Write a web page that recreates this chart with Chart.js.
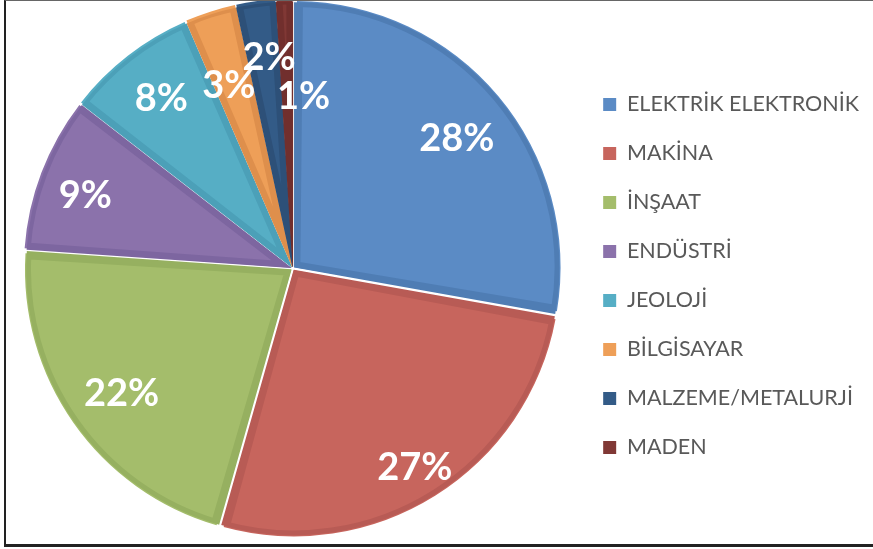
<!DOCTYPE html>
<html>
<head>
<meta charset="utf-8">
<script src="https://cdn.jsdelivr.net/npm/chart.js@4/dist/chart.umd.min.js"></script>
<style>
  html, body { margin: 0; padding: 0; background: #fff; }
  #wrap { position: relative; width: 873px; height: 549px; }
  #frame {
    position: absolute; left: 4px; top: 0; width: 880px; height: 543px;
    border-left: 2px solid #222; border-top: 1px solid #666; border-bottom: 3px solid #222;
    pointer-events: none;
  }
</style>
</head>
<body>
<div id="wrap">
  <canvas id="pieChart" width="873" height="549"></canvas>
  <div id="frame"></div>
</div>
<script>
const categories = ['ELEKTRİK ELEKTRONİK', 'MAKİNA', 'İNŞAAT', 'ENDÜSTRİ', 'JEOLOJİ', 'BİLGİSAYAR', 'MALZEME/METALURJİ', 'MADEN'];
// shares in percent
const shares = [27.8, 26.6, 21.7, 9.4, 8.0, 3.1, 2.4, 1.0];

const fillColors = ['#5B8BC5', '#C7655D', '#A4BD6B', '#8B72AB', '#56AEC5', '#EE9F58', '#335B87', '#803835'];
const edgeColors = ['#4F7DB4', '#B85B55', '#96B060', '#7D66A0', '#4CA0B8', '#DE8F4C', '#2D5078', '#712F2D'];

// where each percentage sits, as a fraction of the radius (Excel "best fit" look)
const labelRadius = [0.79, 0.88, 0.80, 0.83, 0.81, 0.73, 0.80, 0.65];
const labelTurn = [1.5, 0.5, -1, -1.5, 0, -1.5, 1.5, 5.4]; // degrees

const pctLabels = {
  id: 'pctLabels',
  afterDatasetsDraw(chart) {
    const ctx = chart.ctx;
    const meta = chart.getDatasetMeta(0);
    const total = shares.reduce((a, b) => a + b, 0);
    ctx.save();
    ctx.fillStyle = '#fff';
    ctx.font = 'bold 38px Lato';
    ctx.textAlign = 'center';
    ctx.textBaseline = 'middle';
    meta.data.forEach((arc, i) => {
      const p = arc.getProps(['x', 'y', 'startAngle', 'endAngle', 'outerRadius'], true);
      const mid = (p.startAngle + p.endAngle) / 2 + labelTurn[i] * Math.PI / 180;
      const r = p.outerRadius * labelRadius[i];
      const txt = Math.round(shares[i] / total * 100) + '%';
      ctx.fillText(txt, p.x + Math.cos(mid) * r, p.y + Math.sin(mid) * r);
    });
    ctx.restore();
  }
};

const ctx = document.getElementById('pieChart').getContext('2d');
new Chart(ctx, {
  type: 'pie',
  data: {
    labels: categories,
    datasets: [{
      data: shares,
      backgroundColor: fillColors,
      borderColor: edgeColors,
      borderWidth: 6,
      borderAlign: 'inner',
      offset: 8,
      spacing: 3,
      radius: 265,
      clip: false
    }]
  },
  options: {
    responsive: false,
    animation: false,
    layout: { padding: { left: 10, right: 4, top: 0, bottom: 12 } },
    plugins: {
      tooltip: { enabled: false },
      legend: {
        position: 'right',
        title: { display: true, text: ' ', font: { size: 12.5 }, padding: 0 },
        labels: {
          boxWidth: 13,
          boxHeight: 13,
          padding: 27.5,
          color: '#595959',
          font: { family: 'Lato', size: 21.5 },
          generateLabels(chart) {
            return categories.map((c, i) => ({
              text: c,
              fillStyle: fillColors[i],
              strokeStyle: fillColors[i],
              lineWidth: 0,
              fontColor: '#595959',
              index: i
            }));
          }
        }
      }
    }
  },
  plugins: [pctLabels]
});
</script>
</body>
</html>
